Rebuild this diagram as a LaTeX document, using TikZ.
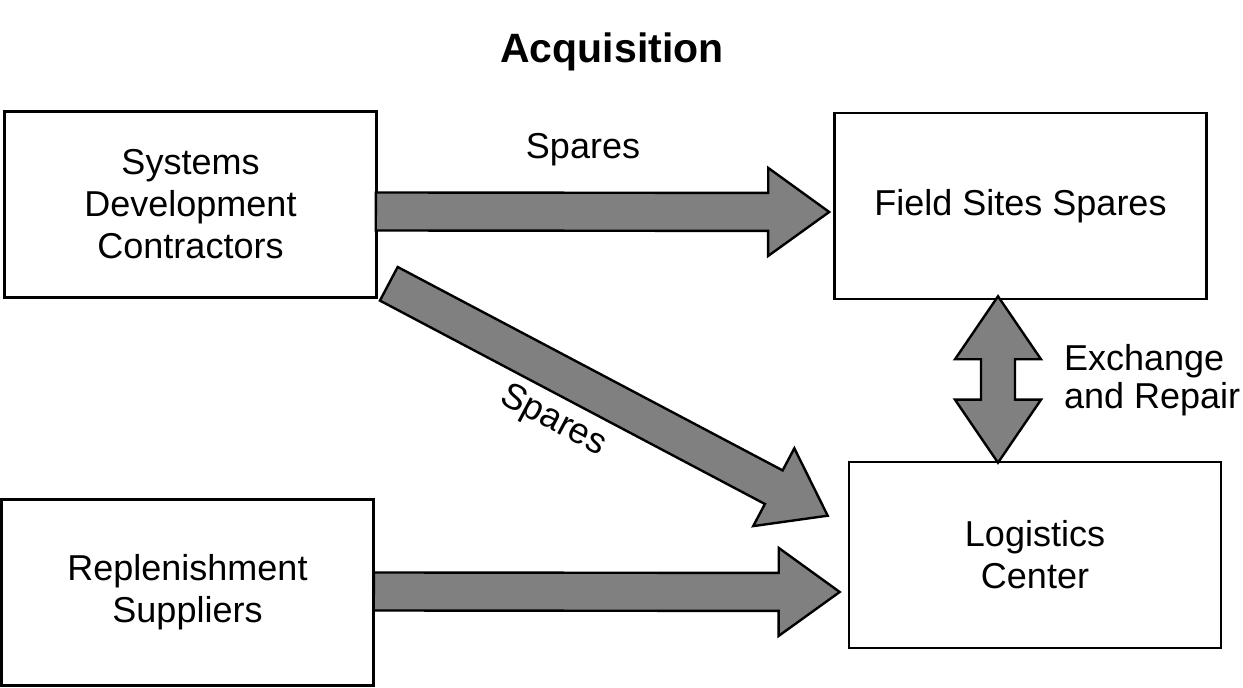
\documentclass[tikz,border=0pt]{standalone}
\usepackage{fontspec}
\setmainfont{Liberation Sans}
\usetikzlibrary{calc}
\usetikzlibrary{positioning}

\tikzset{
  box/.style={draw,line width=1.3pt,minimum width=186pt,minimum height=93pt,align=center,font=\fontsize{18}{21}\selectfont},
  fat/.style={draw,line width=1.2pt,fill=black!50,line join=miter},
  lbl/.style={font=\fontsize{18}{19}\selectfont}
}

\newcommand{\fatarrow}[2]{%
  \coordinate (fb) at ($(#2)!30.5pt!(#1)$);
  \filldraw[fat] ($(#1)!9.5pt!90:(#2)$) -- ($(fb)!9.5pt!-90:(#1)$) -- ($(fb)!22pt!-90:(#1)$) -- (#2)
    -- ($(fb)!22pt!90:(#1)$) -- ($(fb)!9.5pt!90:(#1)$) -- ($(#1)!9.5pt!-90:(#2)$) -- cycle;}

\newcommand{\dblarrow}[2]{%
  \coordinate (da) at ($(#1)!31.5pt!(#2)$);
  \coordinate (db) at ($(#2)!31.5pt!(#1)$);
  \filldraw[fat] (#1) -- ($(da)!21.5pt!90:(#2)$) -- ($(da)!8.5pt!90:(#2)$) -- ($(db)!8.5pt!-90:(#1)$)
    -- ($(db)!21.5pt!-90:(#1)$) -- (#2) -- ($(db)!21.5pt!90:(#1)$) -- ($(db)!8.5pt!90:(#1)$)
    -- ($(da)!8.5pt!-90:(#2)$) -- ($(da)!21.5pt!-90:(#2)$) -- cycle;}

\begin{document}
\begin{tikzpicture}[x=0.5pt,y=-0.5pt]
  \useasboundingbox (0,0) rectangle (1243,688);

  \node[font=\fontsize{20.5}{24}\selectfont\bfseries] (title) at (612,52) {Acquisition};

  \node[box] (sdc)   at (190.5,204.5) {Systems\\Development\\Contractors};
  \node[box] (field) at (1020.5,206)  {Field Sites Spares};
  \node[box] (logi)  at (1035,555)    {Logistics\\Center};
  \node[box] (repl)  at (187.5,592.5) {Replenishment\\Suppliers};

  \coordinate (s1) at ($(sdc.east)+(-2,7)$);
  \coordinate (e1) at ($(field.west)+(-4,6)$);
  \coordinate (s2) at ($(sdc.south east)+(11,-15)$);
  \coordinate (e2) at ($(logi.north west)+(-20,55)$);
  \coordinate (s3) at ($(repl.east)+(-1,-1)$);
  \coordinate (e3) at ($(logi.west)+(-8,37)$);
  \coordinate (u4) at ($(field.south)+(-22.5,-4)$);
  \coordinate (d4) at ($(logi.north)+(-37,2)$);

  \fatarrow{s1}{e1}
  \fatarrow{s2}{e2}
  \fatarrow{s3}{e3}
  \dblarrow{u4}{d4}

  \node[lbl] (sp1) at (583,150) {Spares};
  \node[lbl,rotate=-28] (sp2) at (553,421) {Spares};
  \node[lbl,align=left,anchor=west] (exch) at (1057,380) {Exchange\\and Repair};
\end{tikzpicture}
\end{document}
